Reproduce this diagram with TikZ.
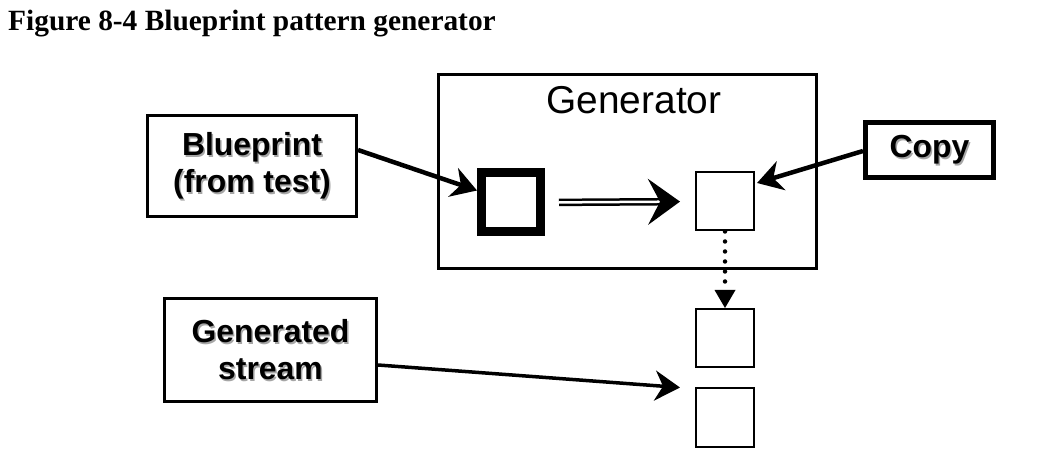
\documentclass[tikz,border=0pt]{standalone}
\usepackage{fontspec}
\setmainfont{Liberation Serif}
\setsansfont{Liberation Sans}
\usetikzlibrary{arrows.meta}

% text with a soft grey drop shadow
\newcommand\shtxt[1]{\leavevmode\rlap{\hspace{1.5bp}\raisebox{-1.5bp}[0pt][0pt]{\color{black!35}#1}}#1}

\begin{document}
\begin{tikzpicture}[x=1bp, y=-1bp,
    every node/.style={inner sep=0pt},
    labelbox/.style={draw, line width=3bp, align=center,
      font=\sffamily\bfseries\fontsize{32}{37}\selectfont},
    cell/.style={draw, line width=2bp, minimum size=58bp},
    link/.style={line width=4.5bp, -{Stealth[length=25bp, width=30bp, inset=8bp]}}]
    \useasboundingbox (0,0) rectangle (1048,454);
    % Title
    \node[anchor=base west, font=\bfseries\fontsize{29.5}{33}\selectfont] (title) at (8,31)
      {Figure 8-4 Blueprint pattern generator};
    % Generator frame
    \node[draw, line width=3bp, minimum width=378bp, minimum height=194bp] (gen) at (627.5,171.5) {};
    \node[font=\sffamily\fontsize{39}{42}\selectfont] (genlabel) at (634,100) {Generator};
    \node[draw, line width=9bp, minimum size=59bp] (blueprintcell) at (511,202.5) {};
    \node[cell] (copycell) at (725,201.5) {};
    % Outside boxes
    \node[labelbox, minimum width=209bp, minimum height=101bp] (blueprint) at (252,166)
      {\shtxt{Blueprint}\\\shtxt{(from test)}};
    \node[labelbox, line width=5bp, minimum width=128bp, minimum height=55bp] (copy) at (929.5,150)
      {\shtxt{Copy}};
    \node[labelbox, minimum width=212bp, minimum height=103bp] (stream) at (270.5,350)
      {\shtxt{Generated}\\\shtxt{stream}};
    % Stream cells
    \node[cell] (streamA) at (725,338) {};
    \node[cell] (streamB) at (725,417.5) {};
    % Connectors
    \draw[link] ([yshift=16bp]blueprint.east) -- ([yshift=12bp]blueprintcell.west);
    \draw[link] ([yshift=-1bp]copy.west) -- ([yshift=18.5bp, xshift=2bp]copycell.east);
    \draw[double, double distance=2.5bp, line width=2.5bp,
      -{Stealth[length=32bp, width=46bp, inset=12bp]},
      shorten <=14bp, shorten >=15bp] (blueprintcell.east) -- (copycell.west);
    \draw[line width=4.5bp, line cap=round, dash pattern=on 0bp off 10bp,
      -{Triangle[length=18bp, width=21bp, line cap=butt, line width=0pt]}] (copycell.south) -- (streamA.north);
    \draw[link, line width=3.5bp] ([yshift=-15bp]stream.east) -- ([xshift=-15bp]streamB.north west);
\end{tikzpicture}
\end{document}
